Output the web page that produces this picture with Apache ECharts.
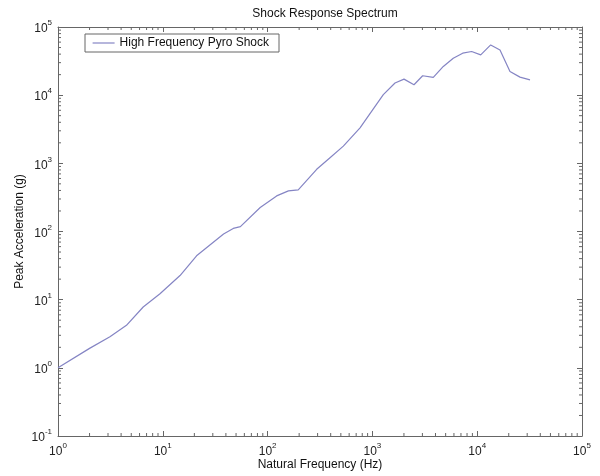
<!DOCTYPE html>
<html>
<head>
<meta charset="utf-8">
<script src="https://cdn.jsdelivr.net/npm/echarts@6/dist/echarts.min.js"></script>
<style>html,body{margin:0;padding:0;background:#fff}#c{width:600px;height:476px}</style>
</head>
<body>
<div id="c"></div>
<script>
var seriesName = 'High Frequency Pyro Shock';
var freq  = [1, 2, 3.13, 4.5, 6.5, 9.4, 14.6, 21, 38, 47, 55, 85, 122, 158, 196, 294, 394, 528, 762, 1271, 1643, 2003, 2494, 3017, 3811, 4750, 5910, 7270, 8850, 10800, 13450, 16500, 20550, 25600, 31900];
var accel = [1, 1.93, 2.85, 4.2, 7.8, 12.2, 22.6, 44, 92, 111, 118, 225, 333, 394, 408, 817, 1210, 1790, 3320, 10160, 15070, 17200, 14230, 19280, 18200, 26400, 34900, 41300, 43700, 39000, 54600, 46100, 22300, 18400, 16800];
var xDecades = [1, 10, 100, 1000, 10000];
var yDecades = [0.1, 1, 10, 100, 1000, 10000];
var minorMult = [2, 3, 4, 5, 6, 7, 8, 9];
var X_MIN = 1, X_MAX = 100000, Y_MIN = 0.1, Y_MAX = 100000;

var lineData = freq.map(function (f, i) { return [f, accel[i]]; });
var minorX = [], minorY = [];
xDecades.forEach(function (d) { minorMult.forEach(function (m) { minorX.push([d * m, 1]); }); });
yDecades.forEach(function (d) { minorMult.forEach(function (m) { minorY.push([10, d * m]); }); });

var FONT = 'Liberation Sans, Arial, Helvetica, sans-serif';
var AX = '#666';
var LINE = '#8585c4';
function powLabel(v) {
  var e = Math.round(Math.log10(v));
  return '{b|10}{s|' + e + '}';
}
var rich = {
  b: { fontSize: 12, fontFamily: FONT, color: '#222', lineHeight: 16, verticalAlign: 'bottom' },
  s: { fontSize: 8, fontFamily: FONT, color: '#222', lineHeight: 16, verticalAlign: 'top' }
};
var TL = 3;
var chart = echarts.init(document.getElementById('c'), null, { renderer: 'canvas' });
chart.setOption({
  animation: false,
  backgroundColor: '#fff',
  title: {
    text: 'Shock Response Spectrum', left: 320, top: 3, textAlign: 'center',
    textStyle: { fontSize: 12, fontWeight: 'normal', color: '#111', fontFamily: FONT }
  },
  legend: {
    data: [seriesName], left: 85, top: 34, orient: 'vertical',
    borderColor: AX, borderWidth: 1, borderRadius: 0, padding: [3, 10, 3, 7],
    itemWidth: 22, itemHeight: 12, itemGap: 4,
    itemStyle: { color: 'rgba(0,0,0,0)', borderWidth: 0, opacity: 0 },
    lineStyle: { color: LINE, width: 1.2 },
    textStyle: { fontSize: 12, color: '#111', fontFamily: FONT }
  },
  grid: { left: 58, right: 18, top: 27, bottom: 38, containLabel: false },
  xAxis: [{
    type: 'log', logBase: 10, min: X_MIN, max: X_MAX,
    name: 'Natural Frequency (Hz)', nameLocation: 'middle', nameGap: 23, nameMoveOverlap: false,
    nameTextStyle: { fontSize: 12, color: '#111', fontFamily: FONT },
    axisLine: { lineStyle: { color: AX } },
    axisTick: { inside: true, length: 5, lineStyle: { color: AX } },
    axisLabel: { formatter: powLabel, rich: rich, margin: 6 },
    splitLine: { show: false }, minorTick: { show: false }
  }, {
    type: 'log', logBase: 10, min: X_MIN, max: X_MAX, position: 'top',
    axisLine: { lineStyle: { color: AX } },
    axisTick: { inside: true, length: 5, lineStyle: { color: AX } },
    axisLabel: { show: false }, splitLine: { show: false }
  }],
  yAxis: [{
    type: 'log', logBase: 10, min: Y_MIN, max: Y_MAX,
    name: 'Peak Acceleration (g)', nameLocation: 'middle', nameGap: 32, nameRotate: 90, nameMoveOverlap: false,
    nameTextStyle: { fontSize: 12, color: '#111', fontFamily: FONT },
    axisLine: { lineStyle: { color: AX } },
    axisTick: { inside: true, length: 5, lineStyle: { color: AX } },
    axisLabel: { formatter: powLabel, rich: rich, margin: 6 },
    splitLine: { show: false }
  }, {
    type: 'log', logBase: 10, min: Y_MIN, max: Y_MAX, position: 'right',
    axisLine: { lineStyle: { color: AX } },
    axisTick: { inside: true, length: 5, lineStyle: { color: AX } },
    axisLabel: { show: false }, splitLine: { show: false }
  }],
  series: [{
    name: seriesName, type: 'line', data: lineData, symbol: 'none', smooth: false,
    lineStyle: { color: LINE, width: 1.2 }, itemStyle: { color: LINE }, z: 3
  }, {
    name: 'minorX', type: 'custom', data: minorX, silent: true, z: 2,
    renderItem: function (params, api) {
      var v = api.value(0);
      var b = api.coord([v, Y_MIN]), t = api.coord([v, Y_MAX]);
      return { type: 'group', children: [
        { type: 'line', shape: { x1: b[0], y1: b[1], x2: b[0], y2: b[1] - TL }, style: { stroke: AX, lineWidth: 1 } },
        { type: 'line', shape: { x1: t[0], y1: t[1], x2: t[0], y2: t[1] + TL }, style: { stroke: AX, lineWidth: 1 } }
      ] };
    }
  }, {
    name: 'minorY', type: 'custom', data: minorY, silent: true, z: 2,
    renderItem: function (params, api) {
      var v = api.value(1);
      var l = api.coord([X_MIN, v]), r = api.coord([X_MAX, v]);
      return { type: 'group', children: [
        { type: 'line', shape: { x1: l[0], y1: l[1], x2: l[0] + TL, y2: l[1] }, style: { stroke: AX, lineWidth: 1 } },
        { type: 'line', shape: { x1: r[0], y1: r[1], x2: r[0] - TL, y2: r[1] }, style: { stroke: AX, lineWidth: 1 } }
      ] };
    }
  }]
});
</script>
</body>
</html>
